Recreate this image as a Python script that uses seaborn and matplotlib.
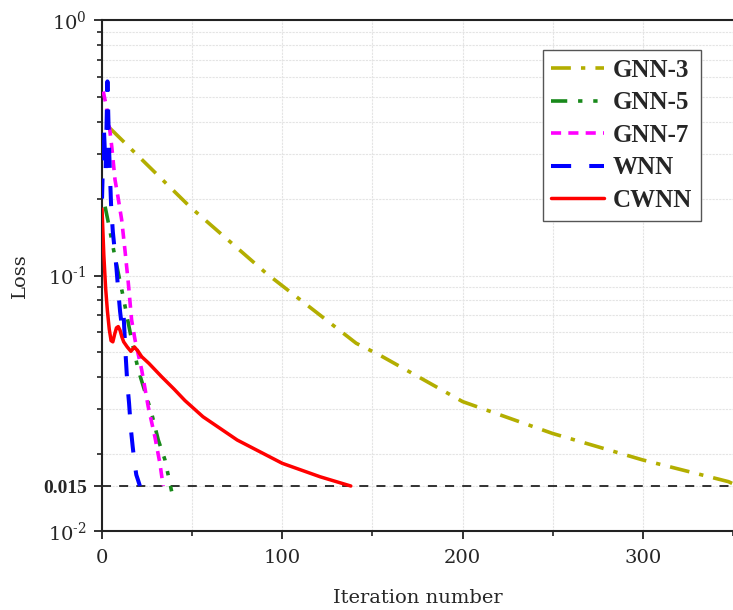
import numpy as np
import pandas as pd
import matplotlib
matplotlib.use("Agg")
import matplotlib.pyplot as plt
from matplotlib.ticker import FixedLocator, LogLocator, MultipleLocator, NullFormatter
import seaborn as sns

# Training loss per iteration for each network
gnn3_iter = [4.4, 48.7, 91.1, 141, 153.8, 200, 249.8, 299.6, 347.5, 350]
gnn3_loss = [0.377, 0.186, 0.102, 0.0543, 0.0489, 0.0321, 0.0241, 0.0190, 0.0156, 0.0153]

gnn5_iter = [1.7, 3.5, 6.8, 10, 11.8, 14.6, 16.4, 20.1, 27.5, 31.2, 34.9, 38.6]
gnn5_loss = [0.186, 0.161, 0.122, 0.0946, 0.0822, 0.0650, 0.0560, 0.0427, 0.0289, 0.0227, 0.0190, 0.0143]

gnn7_iter = [0.7, 2.6, 4.4, 5.4, 7.2, 9, 10.9, 12.7, 14.6, 16.4, 18.3, 22, 25.6, 29.3, 32.1, 33.9]
gnn7_loss = [0.525, 0.451, 0.366, 0.319, 0.237, 0.200, 0.165, 0.126, 0.0931, 0.0670, 0.0560,
             0.0427, 0.0307, 0.0234, 0.0184, 0.0150]

wnn_iter = [0, 1, 2, 3, 4, 5, 6, 7, 8, 9, 10, 11, 12, 13, 14, 15, 16, 17, 18, 19, 20, 21]
wnn_loss = [0.200, 0.380, 0.260, 0.575, 0.300, 0.190, 0.148, 0.126, 0.107, 0.0871, 0.0724,
            0.0631, 0.0692, 0.0501, 0.0380, 0.0316, 0.0251, 0.0214, 0.0186, 0.0166, 0.0158, 0.0150]

cwnn_iter = [0, 1, 2, 3, 4, 5, 6, 7, 8, 9, 10, 11, 12, 14, 16, 18, 20, 22, 26, 33, 40, 46,
             56, 75, 100, 121, 138]
cwnn_loss = [0.182, 0.120, 0.0891, 0.0724, 0.0617, 0.0556, 0.0550, 0.0589, 0.0624, 0.0631,
             0.0610, 0.0575, 0.0550, 0.0525, 0.0505, 0.0525, 0.0505, 0.0481, 0.0453, 0.0402,
             0.0359, 0.0324, 0.0280, 0.0227, 0.0184, 0.0163, 0.0150]

threshold = 0.015

series = [
    ("GNN-3", gnn3_iter, gnn3_loss),
    ("GNN-5", gnn5_iter, gnn5_loss),
    ("GNN-7", gnn7_iter, gnn7_loss),
    ("WNN", wnn_iter, wnn_loss),
    ("CWNN", cwnn_iter, cwnn_loss),
]
df = pd.concat(
    [pd.DataFrame({"model": name, "iteration": xs, "loss": ys}) for name, xs, ys in series],
    ignore_index=True,
)

styles = {
    "GNN-3": dict(color="#b3ae00", ls=(0, (5.5, 2.8, 1.2, 2.8)), lw=2.6),
    "GNN-5": dict(color="#18891a", ls=(0, (4.5, 3, 1.2, 3, 1.2, 3)), lw=2.6),
    "GNN-7": dict(color="#ff00ff", ls=(0, (2.8, 2.0)), lw=2.6),
    "WNN": dict(color="#0000ff", ls=(0, (5, 4.5)), lw=2.9),
    "CWNN": dict(color="#ff0000", ls="-", lw=2.5),
}

sns.set_style("white")
plt.rcParams["font.family"] = ["DejaVu Serif"]
plt.rcParams["mathtext.fontset"] = "dejavuserif"

fig = plt.figure(figsize=(7.33, 6.10), dpi=100)
ax = fig.add_axes([0.1392, 0.1295, 0.8608, 0.8377])

for name, _, _ in series:
    st = styles[name]
    sub = df[df["model"] == name]
    sns.lineplot(data=sub, x="iteration", y="loss", ax=ax, color=st["color"],
                 linestyle=st["ls"], linewidth=st["lw"], label=name, sort=False,
                 estimator=None, zorder=3)

ax.axhline(threshold, color="#222222", lw=1.3, ls=(0, (5, 4.5)), zorder=2)

ax.set_yscale("log")
ax.set_xlim(0, 350)
ax.set_ylim(0.01, 1)

ax.xaxis.set_major_locator(MultipleLocator(100))
ax.xaxis.set_minor_locator(MultipleLocator(50))
ax.yaxis.set_major_locator(FixedLocator([0.01, threshold, 0.1, 1]))
ax.yaxis.set_minor_locator(LogLocator(base=10, subs=np.arange(2, 10)))
ax.yaxis.set_minor_formatter(NullFormatter())
ax.set_yticklabels([r"$10^{\text{-}2}$", "0.015", r"$10^{\text{-}1}$", r"$10^{0}$"])
for lab in ax.get_yticklabels():
    if lab.get_text() == "0.015":
        lab.set_fontfamily("Liberation Serif")
        lab.set_fontweight("bold")

ax.tick_params(axis="both", which="major", direction="out", length=6, width=1.3,
               labelsize=14, color="#222222", left=True, bottom=True)
ax.tick_params(axis="both", which="minor", direction="out", length=3.6, width=1.2,
               color="#222222", left=True, bottom=True)
ax.tick_params(axis="y", which="major", pad=5)
ax.tick_params(axis="x", which="major", pad=7)

ax.grid(which="both", color="#e4e4e4", linestyle=(0, (2, 1)), linewidth=0.8, zorder=0)
ax.set_axisbelow(True)

for side in ["left", "bottom", "top"]:
    ax.spines[side].set_visible(True)
    ax.spines[side].set_color("#222222")
    ax.spines[side].set_linewidth(1.5)
ax.spines["right"].set_visible(False)

ax.set_xlabel("Iteration number", fontsize=14, labelpad=16)
ax.set_ylabel("Loss", fontsize=14, labelpad=10)

leg = ax.legend(loc="upper right", bbox_to_anchor=(0.949, 0.941), borderaxespad=0,
                frameon=True, fancybox=False, framealpha=1, edgecolor="#555555",
                handlelength=2.1, labelspacing=0.38, handletextpad=0.35, borderpad=0.35,
                prop={"family": "Liberation Serif", "weight": "bold", "size": 18})
leg.get_frame().set_linewidth(1.0)

fig.savefig("out.png", dpi=100)
